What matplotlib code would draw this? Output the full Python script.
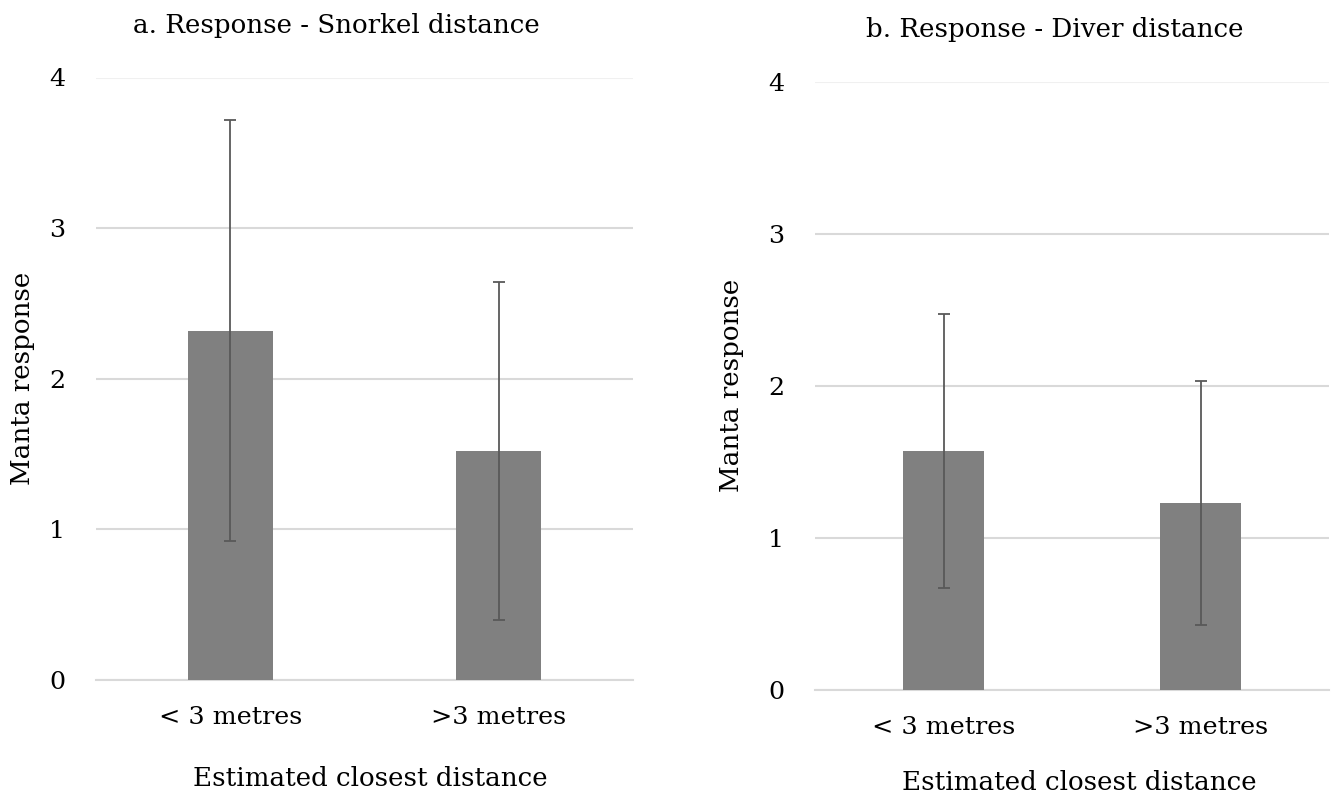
import matplotlib
matplotlib.use("Agg")
import matplotlib.pyplot as plt
import numpy as np

# ---- data ----
categories = ["< 3 metres", ">3 metres"]
snorkel_mean = [2.32, 1.52]
snorkel_err = [1.40, 1.12]
diver_mean = [1.57, 1.23]
diver_err = [0.90, 0.80]
yticks = [0, 1, 2, 3, 4]
titles = ["a. Response - Snorkel distance", "b. Response - Diver distance"]
ylabel = "Manta response"
xlabel = "Estimated closest distance"

W, H = 1331, 797
plt.rcParams['font.family'] = ['DejaVu Serif Condensed', 'DejaVu Serif']
FS = 18.8
FS_TICK = 18.3
TXT = "#000000"
GRID = "#d9d9d9"
BAR = "#808080"
ERR = "#595959"

fig = plt.figure(figsize=(W / 100, H / 100), dpi=100)
fig.patch.set_facecolor("white")


def px_axes(x0, x1, y_top, y_bot):
    return fig.add_axes([x0 / W, (H - y_bot) / H, (x1 - x0) / W, (y_bot - y_top) / H])


panels = [
    dict(box=(96, 633, 77.5, 680), mean=snorkel_mean, err=snorkel_err, title=titles[0],
         title_xy=(336, 26), ylab_x=23, xlab_xy=(370, 778)),
    dict(box=(815, 1329, 81.7, 690), mean=diver_mean, err=diver_err, title=titles[1],
         title_xy=(1055, 30), ylab_x=731, xlab_xy=(1079, 782)),
]

for p in panels:
    x0, x1, yt, yb = p["box"]
    ax = px_axes(x0, x1, yt, yb)
    x = np.arange(len(categories))
    ax.bar(x, p["mean"], width=0.315, color=BAR, zorder=3)
    ax.errorbar(x, p["mean"], yerr=p["err"], fmt="none", ecolor=ERR, elinewidth=1.3,
                capsize=4.2, capthick=1.3, zorder=4)
    ax.set_xlim(-0.5, len(categories) - 0.5)
    ax.set_ylim(0, 4)
    ax.set_yticks(yticks)
    ax.set_yticklabels([str(t) for t in yticks], fontsize=FS_TICK, color=TXT)
    ax.set_xticks(x)
    ax.set_xticklabels(categories, fontsize=FS_TICK, color=TXT)
    ax.tick_params(axis="both", length=0)
    ax.tick_params(axis="y", pad=22)
    ax.tick_params(axis="x", pad=19)
    for s in ["top", "right", "left"]:
        ax.spines[s].set_visible(False)
    ax.spines["bottom"].set_color(GRID)
    ax.spines["bottom"].set_linewidth(1.5)
    ax.yaxis.grid(True, color=GRID, linewidth=1.5, zorder=0)
    ax.set_axisbelow(True)
    gl = ax.get_ygridlines()
    gl[-1].set_color("#f0f0f0")
    # titles / labels
    tx, ty = p["title_xy"]
    fig.text(tx / W, 1 - ty / H, p["title"], ha="center", va="center", fontsize=FS, color=TXT)
    cy = (yt + yb) / 2
    fig.text(p["ylab_x"] / W, 1 - cy / H, ylabel, ha="center", va="center", rotation=90,
             fontsize=FS, color=TXT)
    lx, ly = p["xlab_xy"]
    fig.text(lx / W, 1 - ly / H, xlabel, ha="center", va="center",
             fontsize=FS, color=TXT)

fig.savefig("out.png", dpi=100, facecolor="white")
